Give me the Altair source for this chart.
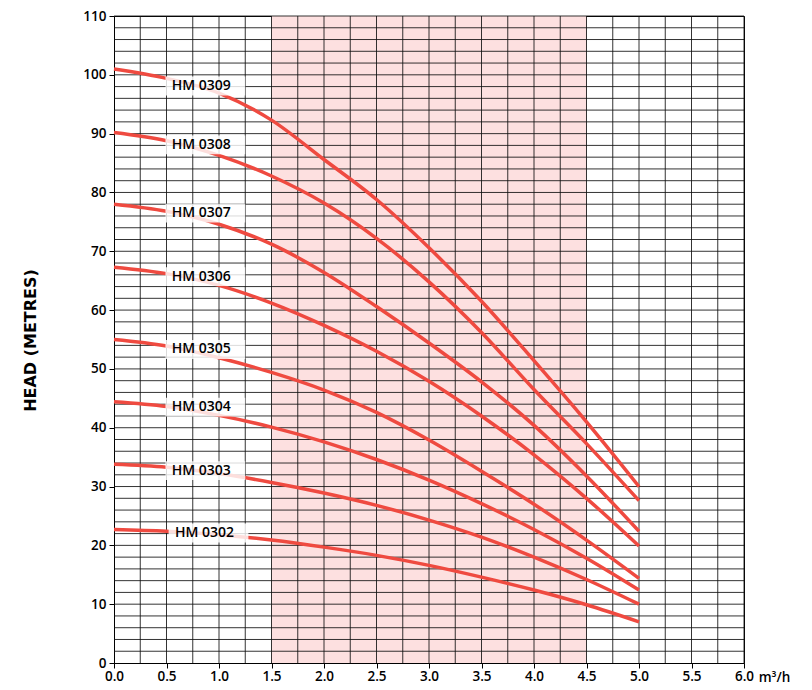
import altair as alt
import pandas as pd
import numpy as np

# ---- data ----
flow = [0.0, 0.5, 1.0, 1.5, 2.0, 2.5, 3.0, 3.5, 4.0, 4.5, 5.0]
hm0309 = [101.0, 99.4, 96.9, 92.3, 85.6, 78.8, 70.6, 61.5, 51.4, 41.0, 30.0]
hm0308 = [90.2, 88.8, 86.3, 82.8, 78.2, 72.2, 64.8, 56.2, 46.5, 37.3, 27.6]
hm0307 = [78.0, 76.8, 74.6, 71.2, 66.4, 60.6, 54.4, 47.8, 40.4, 31.8, 22.4]
hm0306 = [67.3, 66.2, 64.2, 61.2, 57.4, 53.0, 47.9, 42.0, 35.4, 28.0, 19.9]
hm0305 = [55.0, 53.9, 51.9, 49.4, 46.4, 42.6, 37.9, 32.6, 27.0, 20.9, 14.4]
hm0304 = [44.4, 43.6, 42.1, 40.1, 37.6, 34.6, 31.1, 27.1, 22.7, 17.8, 12.4]
hm0303 = [33.8, 33.3, 32.2, 30.7, 28.9, 26.8, 24.3, 21.4, 18.0, 14.2, 10.0]
hm0302 = [22.7, 22.4, 21.8, 20.9, 19.7, 18.3, 16.6, 14.6, 12.4, 9.9, 7.0]

models = ["HM 0309", "HM 0308", "HM 0307", "HM 0306",
          "HM 0305", "HM 0304", "HM 0303", "HM 0302"]
series = [hm0309, hm0308, hm0307, hm0306, hm0305, hm0304, hm0303, hm0302]

label_x = [0.55, 0.55, 0.55, 0.55, 0.55, 0.55, 0.55, 0.58]
label_y = [98.1, 88.1, 76.5, 65.7, 53.3, 43.5, 32.7, 22.1]

band_start = [1.5]
band_end = [4.5]

x_ticks = [0.0, 0.5, 1.0, 1.5, 2.0, 2.5, 3.0, 3.5, 4.0, 4.5, 5.0, 5.5, 6.0]
y_ticks = [0, 10, 20, 30, 40, 50, 60, 70, 80, 90, 100, 110]
x_grid = list(np.arange(0.25, 6.01, 0.25))
y_grid = list(np.arange(2, 110.1, 2))

# ---- tables ----
rows = []
for m, s in zip(models, series):
    for q, h in zip(flow, s):
        rows.append({"model": m, "flow": q, "head": h})
curves = pd.DataFrame(rows)
labels = pd.DataFrame({"model": models, "lx": label_x, "ly": label_y})
band = pd.DataFrame({"x1": band_start, "x2": band_end, "y1": [0], "y2": [110]})
vgrid = pd.DataFrame({"g": x_grid})
hgrid = pd.DataFrame({"g": y_grid})

FONT = "Open Sans"
TITLE_FONT = "DejaVu Sans"
W, H = 630, 647

xscale = alt.Scale(domain=[0, 6], nice=False, zero=False)
yscale = alt.Scale(domain=[0, 110], nice=False)

xaxis = alt.Axis(values=x_ticks, format=".1f", grid=False, domainColor="black",
                 tickColor="black", tickSize=5, labelFont=FONT, labelFontSize=13.5,
                 labelFontWeight=600, labelColor="black", labelPadding=1,
                 title="m³/h", titleFont=FONT, titleFontSize=13.5, titleFontWeight=600,
                 titleColor="black", titleX=660, titleY=14, titleAlign="center",
                 titleBaseline="middle", labelFlush=False)
yaxis = alt.Axis(values=y_ticks, grid=False, domainColor="black", tickColor="black",
                 tickSize=5, labelFont=FONT, labelFontSize=13.5, labelFontWeight=600,
                 labelColor="black", labelPadding=3,
                 title="HEAD (METRES)", titleFont=TITLE_FONT, titleFontSize=16,
                 titleFontWeight="bold", titleColor="black", titleX=-84, titleY=324,
                 titleAlign="center", titleBaseline="middle", titleAngle=-90)

band_layer = alt.Chart(band).mark_rect(color="#fde0e0").encode(
    x=alt.X("x1:Q", scale=xscale, axis=xaxis),
    x2="x2:Q",
    y=alt.Y("y1:Q", scale=yscale, axis=yaxis),
    y2="y2:Q",
)

vgrid_layer = alt.Chart(vgrid).mark_rule(color="#111111", strokeWidth=1, opacity=0.85).encode(
    x=alt.X("g:Q", scale=xscale, axis=xaxis)
)
hgrid_layer = alt.Chart(hgrid).mark_rule(color="#111111", strokeWidth=1, opacity=0.85).encode(
    y=alt.Y("g:Q", scale=yscale, axis=yaxis)
)

line_layer = alt.Chart(curves).mark_line(
    color="#ef4a40", strokeWidth=3.5, interpolate="monotone", strokeCap="butt"
).encode(
    x=alt.X("flow:Q", scale=xscale, axis=xaxis),
    y=alt.Y("head:Q", scale=yscale, axis=yaxis),
    detail="model:N",
)

box_layer = alt.Chart(labels).transform_calculate(
    bx1="datum.lx - 0.06", bx2="datum.lx + 0.7",
    by1="datum.ly - 1.6", by2="datum.ly + 1.6",
).mark_rect(color="white", opacity=0.82).encode(
    x=alt.X("bx1:Q", scale=xscale, axis=xaxis), x2="bx2:Q",
    y=alt.Y("by1:Q", scale=yscale, axis=yaxis), y2="by2:Q",
)

text_layer = alt.Chart(labels).mark_text(
    align="left", baseline="middle", font=FONT, fontSize=14, fontWeight=600,
    color="black"
).encode(
    x=alt.X("lx:Q", scale=xscale, axis=xaxis),
    y=alt.Y("ly:Q", scale=yscale, axis=yaxis),
    text="model:N",
)

chart = alt.layer(
    band_layer, vgrid_layer, hgrid_layer, line_layer, box_layer, text_layer
).properties(
    width=W, height=H,
    autosize=alt.AutoSizeParams(type="none"),
    padding={"left": 106, "top": 8, "right": 60, "bottom": 26},
).configure_view(stroke="black", strokeWidth=1)

chart.save("out.html", embed_options={"renderer": "svg", "actions": False})
